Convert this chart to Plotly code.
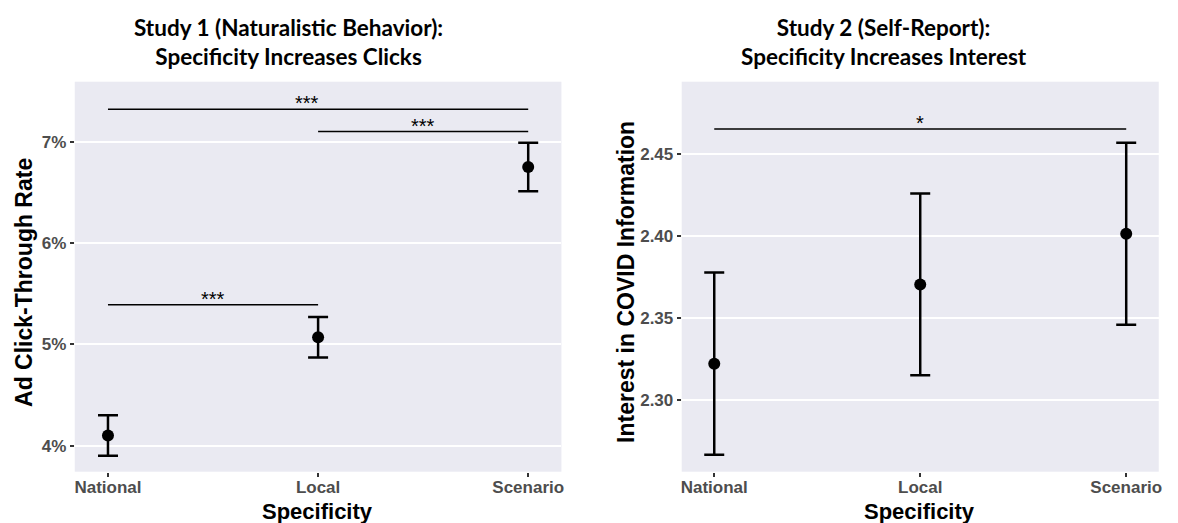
import plotly.graph_objects as go

# ---- data ----
categories = ["National", "Local", "Scenario"]

# Study 1: click-through rate (fraction) and error half-widths
ctr_mean = [0.0410, 0.0507, 0.0675]
ctr_err = [0.0020, 0.0020, 0.0024]

# Study 2: interest in COVID information
interest_mean = [2.322, 2.3705, 2.4015]
interest_err = [0.0557, 0.0555, 0.0556]

# significance brackets: (from, to, height, label)
study1_brackets = [
    ("National", "Scenario", 0.0732, "***"),
    ("Local", "Scenario", 0.0710, "***"),
    ("National", "Local", 0.0539, "***"),
]
study2_brackets = [
    ("National", "Scenario", 2.4655, "*"),
]

study1_title = ["Study 1 (Naturalistic Behavior):", "Specificity Increases Clicks"]
study2_title = ["Study 2 (Self-Report):", "Specificity Increases Interest"]
study1_ytitle = "Ad Click-Through Rate"
study2_ytitle = "Interest in COVID Information"
x_title = "Specificity"

# page has an 8px body margin; figure is sized to fill the rest of the window
OFF = 8
W, H = 1178 - OFF, 523 - OFF
PANEL_BG = "#EAEAF2"
TICK_COLOR = "#4D4D4D"

fig = go.Figure()

def px_x(p):
    return (p - OFF) / W

def px_y(p):
    return 1 - (p - OFF) / H

dom1 = [px_x(74), px_x(562.3)]
dom2 = [px_x(683), px_x(1161.7)]
ydom = [px_y(471.7), px_y(81.7)]

def add_points(xa, ya, means, errs):
    fig.add_trace(go.Scatter(
        x=categories, y=means, xaxis=xa, yaxis=ya, mode="markers",
        marker=dict(color="black", size=12),
        error_y=dict(type="data", array=errs, visible=True, color="black",
                     thickness=2.5, width=10),
        showlegend=False, hoverinfo="skip"))

add_points("x", "y", ctr_mean, ctr_err)
add_points("x2", "y2", interest_mean, interest_err)

annotations = []

def add_brackets(xa, ya, brackets, xshifts):
    for (a, b, h, lab), xs in zip(brackets, xshifts):
        fig.add_trace(go.Scatter(
            x=[a, b], y=[h, h], xaxis=xa, yaxis=ya, mode="lines",
            line=dict(color="black", width=1.5),
            showlegend=False, hoverinfo="skip"))
        mid = (categories.index(a) + categories.index(b)) / 2
        annotations.append(dict(
            x=mid, y=h, xref=xa, yref=ya, text=lab, showarrow=False,
            yanchor="middle", yshift=6, xshift=xs,
            font=dict(family="Liberation Sans", size=20, color="black")))

add_brackets("x", "y", study1_brackets, [-11, 0, 0])
add_brackets("x2", "y2", study2_brackets, [0])

# titles (two lines each)
for cx, lines in ((288, study1_title), (886, study2_title)):
    annotations.append(dict(
        x=px_x(cx), y=px_y(41.5), xref="paper", yref="paper",
        text="<br>".join("<b>" + t + "</b>" for t in lines),
        showarrow=False, xanchor="center", yanchor="middle", align="center",
        font=dict(family="Lato", size=22.5, color="black")))

# y axis titles
for cx, t in ((23, study1_ytitle), (627, study2_ytitle)):
    annotations.append(dict(
        x=px_x(cx), y=px_y(282), xref="paper", yref="paper", text="<b>" + t + "</b>",
        showarrow=False, textangle=-90, xanchor="center", yanchor="middle",
        font=dict(family="Liberation Sans", size=23, color="black")))

# x axis titles
for cx in (318, 922):
    annotations.append(dict(
        x=px_x(cx), y=px_y(511), xref="paper", yref="paper", text="<b>" + x_title + "</b>",
        showarrow=False, xanchor="center", yanchor="middle",
        font=dict(family="Liberation Sans", size=22, color="black")))

xaxis_common = dict(
    type="category", categoryorder="array", categoryarray=categories,
    range=[-0.158, 2.158], showgrid=False, zeroline=False,
    ticks="outside", ticklen=4, tickwidth=1.5, tickcolor="#333333",
    ticklabelstandoff=-4,
    tickfont=dict(family="Liberation Sans", size=17, color=TICK_COLOR, weight="bold"),
    showline=False, fixedrange=True)
yaxis_common = dict(
    showgrid=True, gridcolor="white", gridwidth=2, zeroline=False,
    ticks="outside", ticklen=4, tickwidth=1.5, tickcolor="#333333",
    tickfont=dict(family="Liberation Sans", size=17, color=TICK_COLOR, weight="bold"),
    showline=False, fixedrange=True)

fig.update_layout(
    width=W, height=H,
    margin=dict(l=0, r=0, t=0, b=0),
    paper_bgcolor="white",
    plot_bgcolor=PANEL_BG,
    xaxis=dict(domain=dom1, anchor="y", **xaxis_common),
    xaxis2=dict(domain=dom2, anchor="y2", **xaxis_common),
    yaxis=dict(domain=ydom, anchor="x", range=[0.03743, 0.07592],
               tickvals=[0.04, 0.05, 0.06, 0.07], tickformat=".0%", **yaxis_common),
    yaxis2=dict(domain=ydom, anchor="x2", range=[2.256, 2.4944],
                tickvals=[2.30, 2.35, 2.40, 2.45], tickformat=".2f", **yaxis_common),
    annotations=annotations,
)

fig.write_html("out.html")
